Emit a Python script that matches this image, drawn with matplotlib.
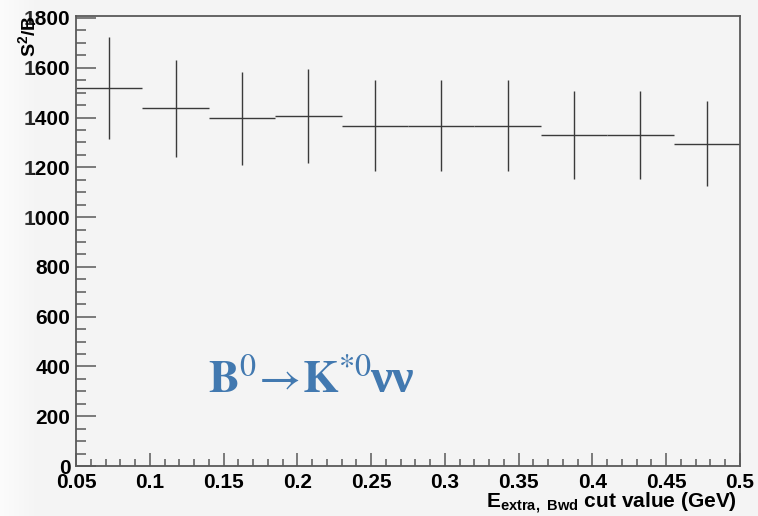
import numpy as np
import matplotlib
matplotlib.use("Agg")
import matplotlib.pyplot as plt
from matplotlib.transforms import blended_transform_factory, IdentityTransform
from matplotlib.ticker import MultipleLocator

# Cut scan: figure of merit S^2/B per cut value bin
bin_edges = [0.05, 0.095, 0.14, 0.185, 0.23, 0.275, 0.32, 0.365, 0.41, 0.455, 0.5]
fom_values = [1517, 1437, 1397, 1407, 1367, 1367, 1367, 1330, 1330, 1294]
fom_errors = [205, 194, 188, 188, 183, 183, 183, 178, 178, 171]
x_ticks = [0.05, 0.1, 0.15, 0.2, 0.25, 0.3, 0.35, 0.4, 0.45, 0.5]
x_tick_labels = ["0.05", "0.1", "0.15", "0.2", "0.25", "0.3", "0.35", "0.4", "0.45", "0.5"]
y_ticks = [0, 200, 400, 600, 800, 1000, 1200, 1400, 1600, 1800]

plt.rcParams["font.family"] = ["Liberation Sans", "DejaVu Sans"]
plt.rcParams["mathtext.fontset"] = "custom"
plt.rcParams["mathtext.rm"] = "Liberation Sans"
plt.rcParams["mathtext.bf"] = "Liberation Sans:bold"

bg = "#f4f4f4"
blue = "#4279b0"
fig = plt.figure(figsize=(7.58, 5.16), dpi=100, facecolor=bg)

# soft light strip along the left border
grad = np.linspace(1.0, 0.0, 40)[None, :]
fig.figimage(np.dstack([np.ones((516, 40, 3)), np.repeat(grad, 516, axis=0) * 0.7]),
             xo=0, yo=0, zorder=0)

ax = fig.add_axes([76 / 758, 50 / 516, 664 / 758, 450 / 516])
ax.set_facecolor(bg)

edges = np.array(bin_edges)
centers = 0.5 * (edges[:-1] + edges[1:])
half = 0.5 * np.diff(edges)
ax.errorbar(centers, fom_values, xerr=half, yerr=fom_errors, fmt="none",
            ecolor="#3a3a3a", elinewidth=1.0, capsize=0)

ax.set_xlim(0.05, 0.5)
ax.set_ylim(0, 1808)

ax.set_xticks(x_ticks)
ax.set_xticklabels(x_tick_labels)
ax.set_yticks(y_ticks)
ax.xaxis.set_minor_locator(MultipleLocator(0.01))
ax.yaxis.set_minor_locator(MultipleLocator(50))

for s in ax.spines.values():
    s.set_color("#5a5a5a")
    s.set_linewidth(1.3)

ax.tick_params(axis="both", which="both", direction="in", color="#5a5a5a",
               width=1.1, top=False, right=False)
ax.tick_params(axis="y", which="major", length=14.4, pad=4, labelsize=15)
ax.tick_params(axis="y", which="minor", length=7.2)
ax.tick_params(axis="x", which="major", length=9.4, pad=5, labelsize=15)
ax.tick_params(axis="x", which="minor", length=4.7)
for lab in ax.get_xticklabels() + ax.get_yticklabels():
    lab.set_fontweight("bold")
    lab.set_zorder(5)

# axis titles
fig.text(737 / 758, 1 - 503 / 516, r"$\mathbf{E}_{\mathbf{extra,\ Bwd}}$ cut value (GeV)",
         ha="right", va="center", fontsize=15, fontweight="bold")
fig.text(29 / 758, 1 - 15 / 516, r"S$^{\mathbf{2}}$/B", rotation=90, ha="center",
         va="top", fontsize=14, fontweight="bold", zorder=1)

# decay channel label: B0 -> K*0 nu nu
decay = ax.text(0.1395, 296, r"$\mathbf{B}^{0}\!\rightarrow\!\mathbf{K}^{*0}$",
                color=blue, fontsize=33, math_fontfamily="stix", ha="left",
                va="baseline")
fig.canvas.draw()
x_end = decay.get_window_extent().x1
ax.text(x_end - 2, 296, "νν", color=blue, fontsize=35,
        family=["Liberation Serif", "DejaVu Serif"], fontweight="bold",
        ha="left", va="baseline",
        transform=blended_transform_factory(IdentityTransform(), ax.transData))

fig.savefig("out.png", dpi=100, facecolor=bg)
